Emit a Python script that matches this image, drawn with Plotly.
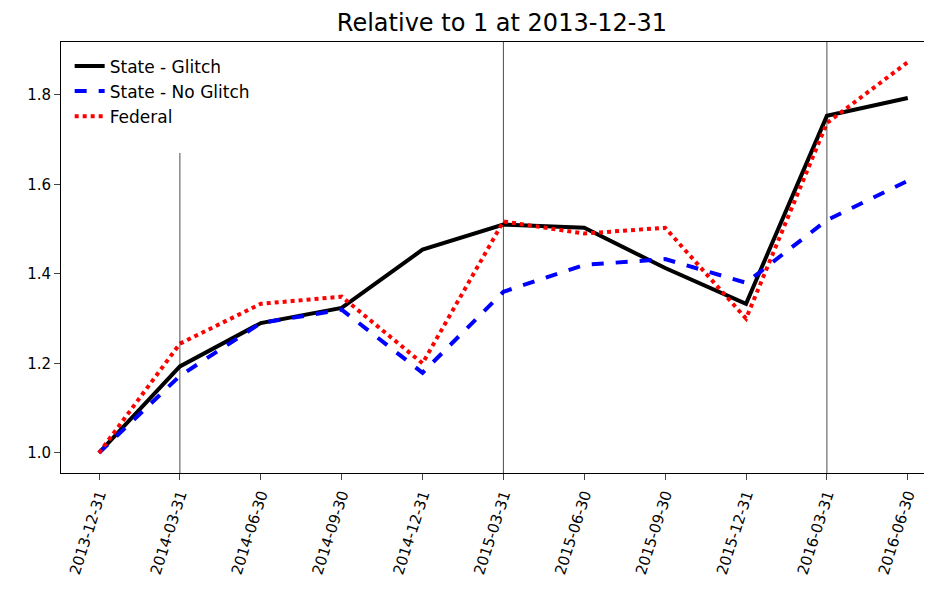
import plotly.graph_objects as go

dates = ["2013-12-31","2014-03-31","2014-06-30","2014-09-30","2014-12-31","2015-03-31",
         "2015-06-30","2015-09-30","2015-12-31","2016-03-31","2016-06-30"]
glitch = [1.0,1.193,1.29,1.324,1.454,1.51,1.503,1.413,1.333,1.753,1.793]
noglitch = [1.0,1.172,1.29,1.32,1.179,1.36,1.42,1.433,1.38,1.52,1.608]
federal = [1.0,1.244,1.333,1.349,1.20,1.517,1.49,1.503,1.30,1.737,1.873]
vline_idx = [1, 5, 9]
vline_top = [1.67, None, None]

x = list(range(len(dates)))
fig = go.Figure()
fig.add_trace(go.Scatter(x=x, y=glitch, mode="lines", name="State - Glitch",
                         line=dict(color="black", width=4)))
fig.add_trace(go.Scatter(x=x, y=noglitch, mode="lines", name="State - No Glitch",
                         line=dict(color="blue", width=4, dash="dash")))
fig.add_trace(go.Scatter(x=x, y=federal, mode="lines", name="Federal",
                         line=dict(color="red", width=4, dash="dot")))
for i, top in zip(vline_idx, vline_top):
    if top is None:
        fig.add_shape(type="line", xref="x", yref="paper", x0=i, x1=i, y0=0, y1=1,
                      line=dict(color="black", width=0.7))
    else:
        fig.add_shape(type="line", xref="x", yref="y", x0=i, x1=i, y0=0.955, y1=top,
                      line=dict(color="black", width=0.7))

fig.update_layout(
    width=932, height=603, paper_bgcolor="white", plot_bgcolor="white",
    margin=dict(l=53, r=12, t=34, b=138),
    title=dict(text="Relative to 1 at 2013-12-31", x=0.53, y=0.975, yanchor="middle", xanchor="center",
               font=dict(size=24, color="black", family="DejaVu Sans")),
    font=dict(family="DejaVu Sans", size=15, color="black"),
    showlegend=True,
    legend=dict(x=0.01, y=0.985, xanchor="left", yanchor="top", bgcolor="rgba(255,255,255,0.8)",
                font=dict(size=17), tracegroupgap=0),
    xaxis=dict(range=[-0.47, 10.25], tickmode="array", tickvals=x, ticktext=dates, automargin=False,
               tickangle=-72, ticks="outside", ticklen=6, showgrid=False, zeroline=False,
               showline=True, linecolor="black", mirror=True, tickfont=dict(size=15)),
    yaxis=dict(range=[0.955, 1.918], tickvals=[1.0,1.2,1.4,1.6,1.8], ticktext=["1.0","1.2","1.4","1.6","1.8"],
               ticks="outside", ticklen=6, showgrid=False, zeroline=False, automargin=False,
               showline=True, linecolor="black", mirror=True, tickfont=dict(size=15)),
)
fig.write_html("out.html")
